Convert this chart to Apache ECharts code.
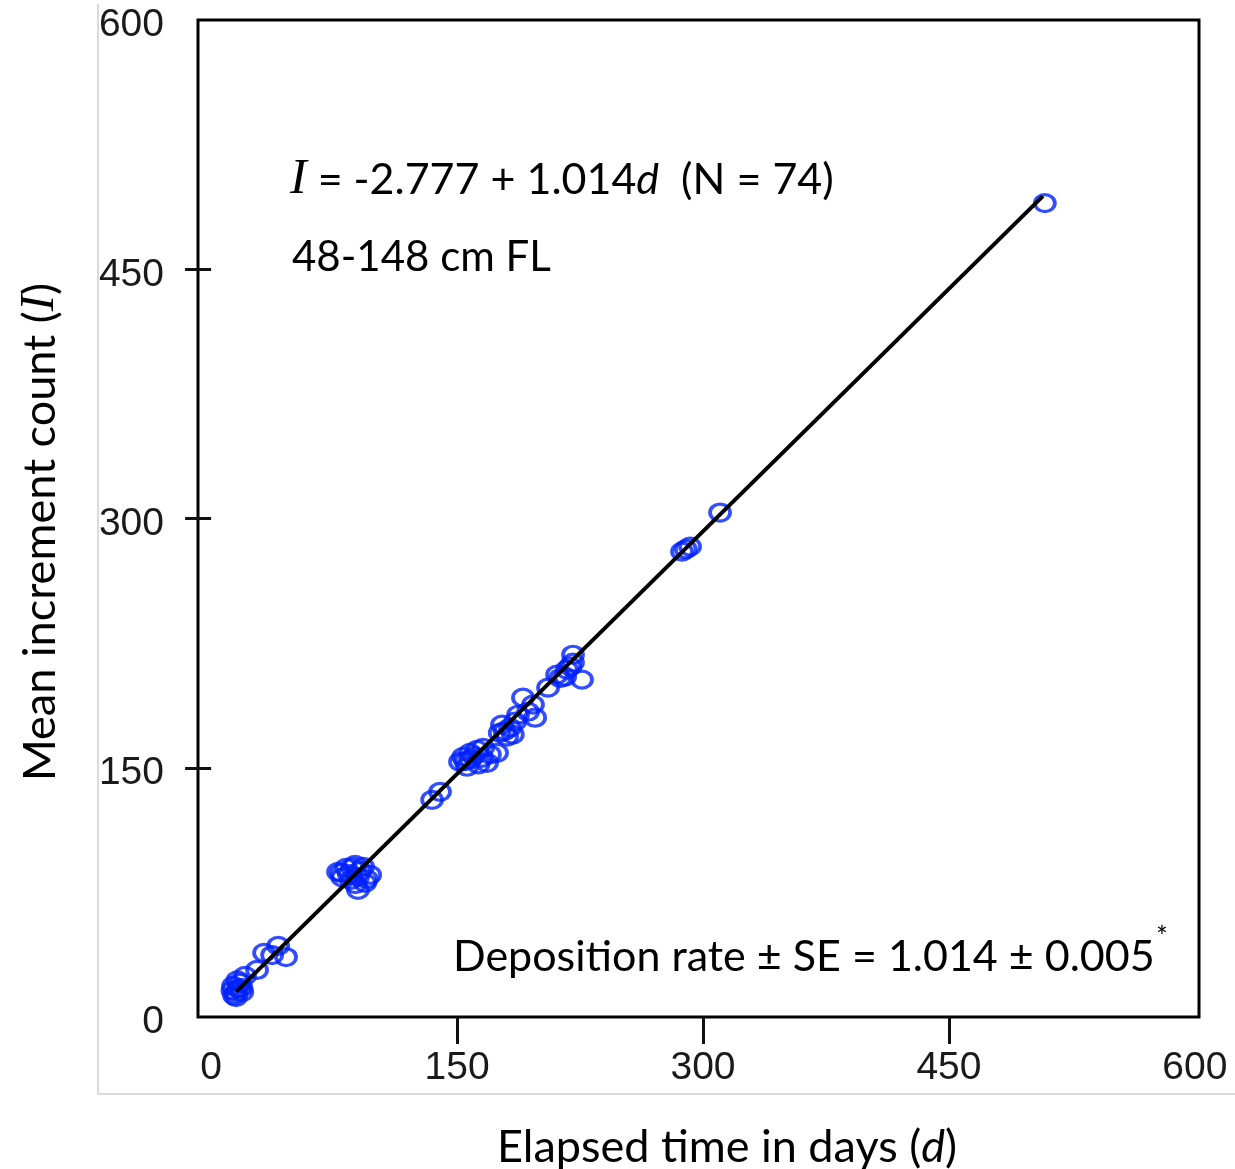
<!DOCTYPE html>
<html>
<head>
<meta charset="utf-8">
<script src="https://cdn.jsdelivr.net/npm/echarts@6/dist/echarts.min.js"></script>
<style>
html,body{margin:0;padding:0;background:#fff;}
#chart{width:1235px;height:1169px;}
</style>
</head>
<body>
<div id="chart"></div>
<script>
// Elapsed time (days) for each fish
const elapsedDays = [
  15.2,13.4,17.7,15.2,20.7,16.5,14,18.5,16,13,19,
  28,32.3,40.9,45.7,37.2,
  77.4,82.3,87.8,92.7,89.6,97,93.9,89.6,85.4,79.3,84,91,95,88,80,86,
  134.8,139.6,
  153.7,157.9,162.2,165.9,156.1,168.3,165.2,174.4,151.8,155,160,163,158,170,
  177.4,182.3,180.5,185.4,187.2,179,184,176,
  190.2,196.3,197.6,193.3,
  205.5,211,215.9,226.2,220.7,220.7,217,213,219,
  287.2,292.1,289.5,310.4,
  508.5
];
// Mean increment count for each fish
const incrementCount = [
  14.5,18.7,20.5,12,24.7,16.9,13,17.5,22,16,15,
  28.3,38.6,42.8,36.1,37.3,
  87.3,89.8,91.6,90.4,84.3,85.5,80.7,76.5,82.5,86.7,86,88,83,80,84,90,
  130.7,135.5,
  156.6,159,160.8,162,150.6,153,156,159,153.6,154,157,152,155,158,
  175.9,174.1,168.7,177.7,181.9,172,170,171,
  192.2,188,180.1,183.7,
  198.2,206,204.8,203,218,213.3,209,204,211,
  280.1,283.1,281.5,303.6,
  489.8
];
// Fitted line end points as drawn
const fitDays = [15.2, 507.3];
const fitCount = [15.1, 494];
// Tick labels
const xTickLabels = [0, 150, 300, 450, 600];
const xTickMarks = [150, 300, 450];
const yTickLabels = [0, 150, 300, 450, 600];
const yTickMarks = [150, 300, 450];

const points = elapsedDays.map((d, i) => [d, incrementCount[i]]);
const fitLine = fitDays.map((d, i) => [d, fitCount[i]]);

const chart = echarts.init(document.getElementById('chart'));
const textFont = 'Lato, "Open Sans", sans-serif';
const tickFont = '"Liberation Sans", Arial, sans-serif';

chart.setOption({
  animation: false,
  backgroundColor: '#ffffff',
  grid: {
    left: 198, top: 20, width: 1001, height: 997,
    show: true, borderColor: '#000', borderWidth: 3,
    containLabel: false, outerBoundsMode: 'none'
  },
  xAxis: {
    type: 'value', min: -8, max: 602.5,
    axisLine: {show: false},
    splitLine: {show: false},
    axisTick: {show: true, customValues: xTickMarks, length: 27, lineStyle: {color: '#111', width: 3}},
    axisLabel: {
      customValues: xTickLabels, margin: 32,
      fontFamily: tickFont, fontSize: 39, color: '#1a1a1a'
    }
  },
  yAxis: {
    type: 'value', min: 0, max: 600,
    axisLine: {show: false},
    splitLine: {show: false},
    axisTick: {show: true, customValues: yTickMarks, length: 26, lineStyle: {color: '#111', width: 3}},
    axisLabel: {
      customValues: yTickLabels, margin: 34, verticalAlign: 'top', padding: [-14, 0, 0, 0],
      fontFamily: tickFont, fontSize: 39, color: '#1a1a1a'
    }
  },
  series: [
    {
      type: 'scatter',
      data: points,
      symbol: 'circle',
      symbolSize: [20, 17],
      itemStyle: {color: 'rgba(0,0,0,0)', borderColor: '#0022ff', borderWidth: 3.5},
      z: 2
    },
    {
      type: 'line',
      data: fitLine,
      showSymbol: false,
      symbol: 'none',
      lineStyle: {color: '#000', width: 4},
      z: 3
    }
  ],
  graphic: [
    {type: 'line', shape: {x1: 98, y1: 4, x2: 98, y2: 1094}, style: {stroke: '#cfcfcf', lineWidth: 1.5}},
    {type: 'line', shape: {x1: 98, y1: 1094, x2: 1235, y2: 1094}, style: {stroke: '#cfcfcf', lineWidth: 1.5}},
    {
      type: 'text', x: 290, y: 180,
      style: {
        text: '{it|I} = -2.777 + 1.014{itd|d}  (N = 74)',
        fontFamily: textFont, fontSize: 43, fill: '#000',
        align: 'left', verticalAlign: 'middle', textAlign: 'left', textVerticalAlign: 'middle',
        rich: {
          it: {fontFamily: '"Liberation Serif", "Times New Roman", serif', fontStyle: 'italic', fontSize: 50, fill: '#000'},
          itd: {fontFamily: textFont, fontStyle: 'italic', fontSize: 43, fill: '#000'}
        }
      }
    },
    {
      type: 'text', x: 292, y: 257,
      style: {
        text: '48-148 cm FL', fontFamily: textFont, fontSize: 42, fill: '#000',
        align: 'left', verticalAlign: 'middle', textAlign: 'left', textVerticalAlign: 'middle'
      }
    },
    {
      type: 'text', x: 453, y: 957,
      style: {
        text: 'Deposition rate ± SE = 1.014 ± 0.005', fontFamily: textFont, fontSize: 43, fill: '#000',
        align: 'left', verticalAlign: 'middle', textAlign: 'left', textVerticalAlign: 'middle'
      }
    },
    {
      type: 'text', x: 1156, y: 938,
      style: {
        text: '*', fontFamily: textFont, fontSize: 28, fill: '#000',
        align: 'left', verticalAlign: 'middle', textAlign: 'left', textVerticalAlign: 'middle'
      }
    },
    {
      type: 'text', x: 727, y: 1147,
      style: {
        text: 'Elapsed time in days ({it|d})', fontFamily: textFont, fontSize: 45, fill: '#000',
        align: 'center', verticalAlign: 'middle', textAlign: 'center', textVerticalAlign: 'middle',
        rich: {it: {fontFamily: textFont, fontStyle: 'italic', fontSize: 45, fill: '#000'}}
      }
    },
    {
      type: 'text', x: 40, y: 532, rotation: Math.PI / 2,
      style: {
        text: 'Mean increment count ({it|I})', fontFamily: textFont, fontSize: 45, fill: '#000',
        align: 'center', verticalAlign: 'middle', textAlign: 'center', textVerticalAlign: 'middle',
        rich: {it: {fontFamily: '"Liberation Serif", "Times New Roman", serif', fontStyle: 'italic', fontSize: 49, fill: '#000'}}
      }
    }
  ]
});
</script>
</body>
</html>
